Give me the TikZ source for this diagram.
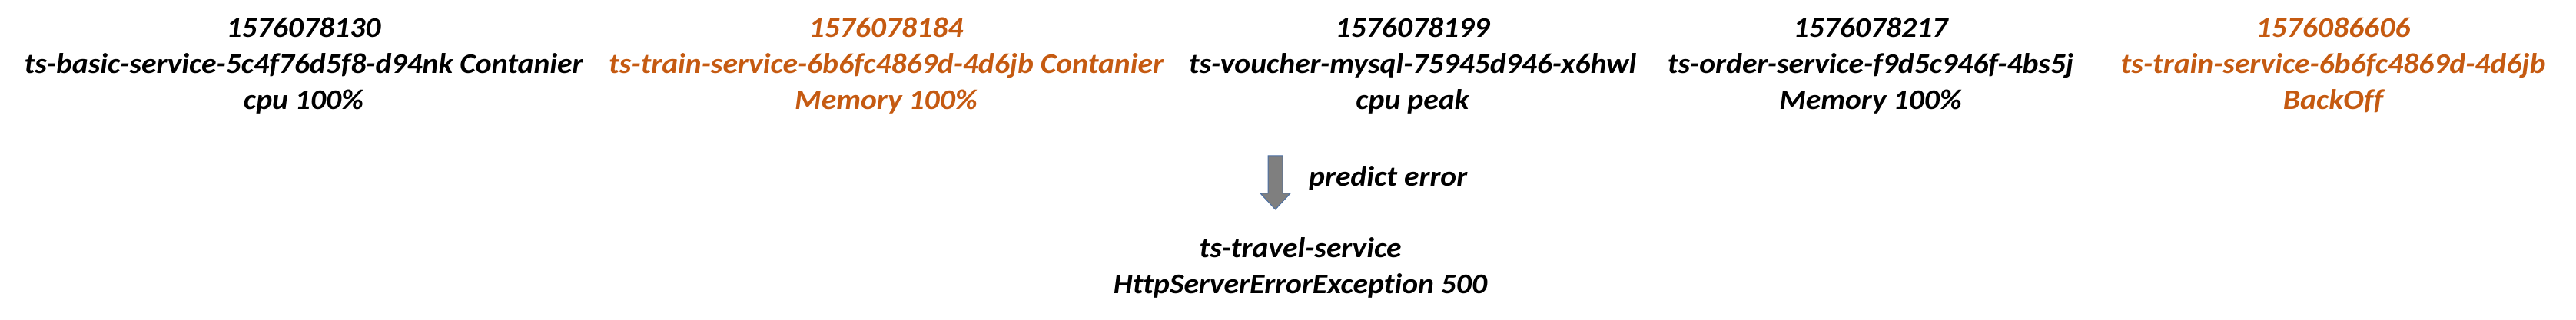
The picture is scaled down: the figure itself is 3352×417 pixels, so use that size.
\documentclass[tikz,border=0pt]{standalone}
\usepackage{fontspec}
\setmainfont{Carlito}[RawFeature=-liga, FakeStretch=1.07]
\definecolor{accorange}{HTML}{C55A11}
\definecolor{arrowgray}{HTML}{7F7F7F}
\definecolor{arrowedge}{HTML}{4A6FA5}
\tikzset{
  lbl/.style={font=\fontsize{37}{47}\selectfont\bfseries\itshape, align=center, inner sep=0pt, anchor=base},
  hot/.style={text=accorange},
  blockarrow/.style={fill=arrowgray, draw=arrowedge, line width=1pt, line join=miter}
}
\begin{document}
\begin{tikzpicture}[x=1pt,y=1pt]
\useasboundingbox (0,0) rectangle (3352,417);
\node[lbl] (e1) at (395,274) {1576078130\\ts-basic-service-5c4f76d5f8-d94nk Contanier\\cpu 100\%};
\node[lbl,hot] (e2) at (1153,274) {1576078184\\ts-train-service-6b6fc4869d-4d6jb Contanier\\Memory 100\%};
\node[lbl] (e3) at (1838,274) {1576078199\\ts-voucher-mysql-75945d946-x6hwl\\cpu peak};
\node[lbl] (e4) at (2434,274) {1576078217\\ts-order-service-f9d5c946f-4bs5j\\Memory 100\%};
\node[lbl,hot] (e5) at (3036,274) {1576086606\\ts-train-service-6b6fc4869d-4d6jb\\BackOff};
\draw[blockarrow] (1650,214) -- (1669,214) -- (1669,165) -- (1679,165) -- (1659.5,144) -- (1640,165) -- (1650,165) -- cycle;
\node[lbl, anchor=base west] (pe) at (1703,174) {predict error};
\node[lbl] (res) at (1692,34) {ts-travel-service\\HttpServerErrorException 500};
\end{tikzpicture}
\end{document}
